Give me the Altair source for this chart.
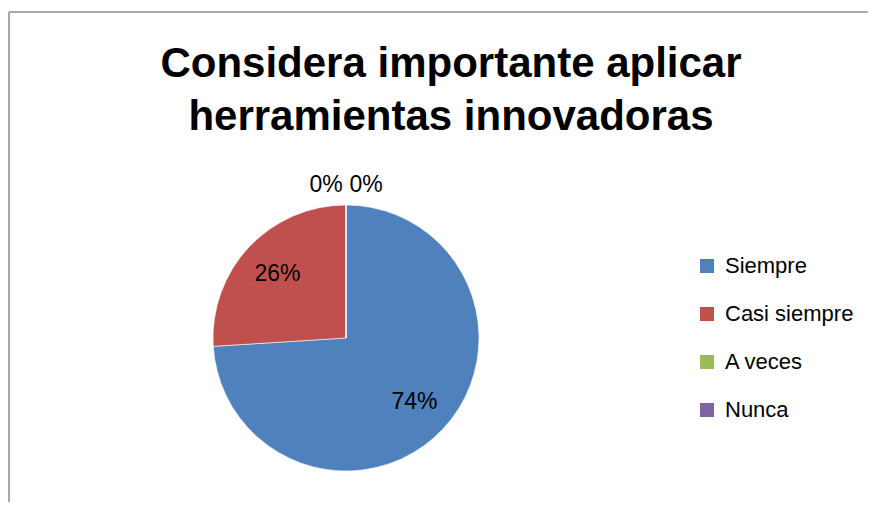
import altair as alt
import pandas as pd

categories = ["Siempre", "Casi siempre", "A veces", "Nunca"]
values = [74, 26, 0, 0]
colors = ["#4F81BD", "#C0504D", "#9BBB59", "#8064A2"]
title_lines = ["Considera importante aplicar", "herramientas innovadoras"]

df = pd.DataFrame({
    "categoria": categories,
    "valor": values,
    "orden": list(range(len(categories))),
    "etiqueta": [f"{v}%" for v in values],
})

FONT = "Liberation Sans"
CX, CY = 338, 330

base = alt.Chart(df).encode(
    theta=alt.Theta("valor:Q", stack=True),
    order=alt.Order("orden:Q"),
    x=alt.value(CX),
    y=alt.value(CY),
)

pie = base.mark_arc(outerRadius=133, stroke="white", strokeWidth=0.6).encode(
    color=alt.Color(
        "categoria:N",
        scale=alt.Scale(domain=categories, range=colors),
        legend=alt.Legend(
            title=None,
            orient="none",
            legendX=688,
            legendY=247,
            symbolType="square",
            symbolSize=196,
            symbolStrokeWidth=0,
            labelFont=FONT,
            labelFontSize=22,
            labelColor="black",
            labelOffset=7,
            rowPadding=26,
            padding=0,
        ),
    )
)

inner = base.mark_text(radius=94, font=FONT, fontSize=23, color="black").encode(
    text="etiqueta:N"
).transform_filter("datum.valor > 0")

zero_a = base.mark_text(radius=153, dx=-20, font=FONT, fontSize=23, color="black").encode(
    text="etiqueta:N"
).transform_filter("datum.categoria == 'A veces'")

zero_n = base.mark_text(radius=153, dx=20, font=FONT, fontSize=23, color="black").encode(
    text="etiqueta:N"
).transform_filter("datum.categoria == 'Nunca'")

title = alt.Chart(df).mark_text(
    text=title_lines, font=FONT, fontSize=42, fontWeight="bold", color="black",
    baseline="alphabetic", align="center", lineHeight=53,
).encode(x=alt.value(443), y=alt.value(69)).transform_filter("datum.orden == 0")

border_top = alt.Chart(df).mark_rule(color="#8c8c8c", strokeWidth=1.5).encode(
    x=alt.value(1), x2=alt.value(1200), y=alt.value(4)
).transform_filter("datum.orden == 0")

border_left = alt.Chart(df).mark_rule(color="#8c8c8c", strokeWidth=1.5).encode(
    x=alt.value(1), y=alt.value(4), y2=alt.value(1200)
).transform_filter("datum.orden == 0")

chart = alt.layer(border_top, border_left, pie, inner, zero_a, zero_n, title).properties(
    width=860, height=494,
    autosize=alt.AutoSizeParams(type="none"),
    padding=0,
    background="white",
).configure_view(stroke=None, strokeWidth=0)

chart.save("out.html", embed_options={"renderer": "svg", "actions": False})
